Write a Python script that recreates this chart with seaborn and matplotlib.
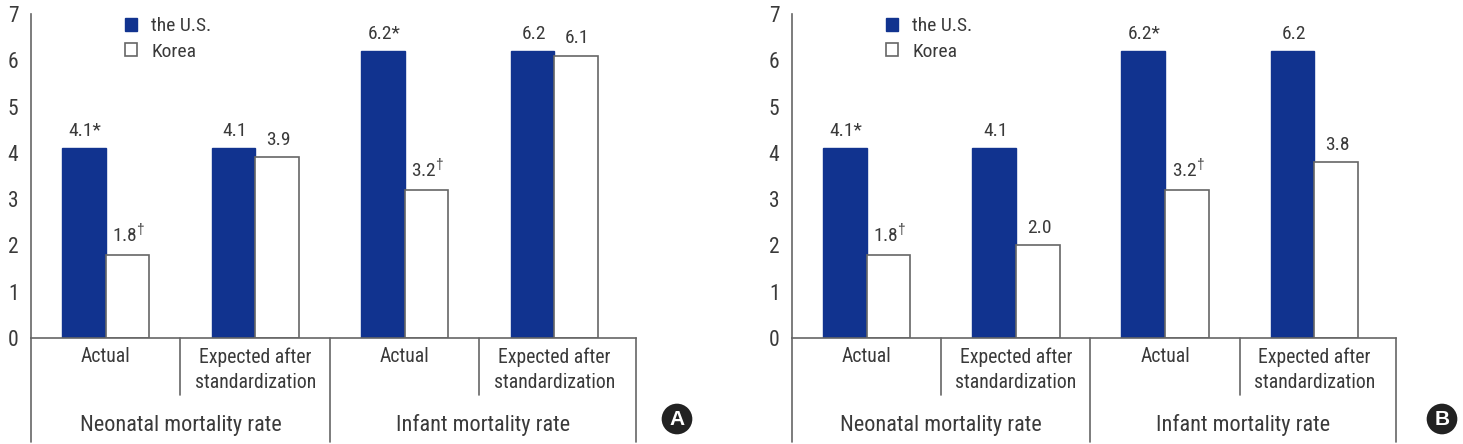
import pandas as pd
import matplotlib.pyplot as plt
from matplotlib.patches import Patch
import seaborn as sns

# data
groups = ['Neonatal mortality rate', 'Infant mortality rate']
subcats = ['Actual', 'Expected after\nstandardization', 'Actual', 'Expected after\nstandardization']
countries = ['the U.S.', 'Korea']

us_a = [4.1, 4.1, 6.2, 6.2]
korea_a = [1.8, 3.9, 3.2, 6.1]
us_b = [4.1, 4.1, 6.2, 6.2]
korea_b = [1.8, 2.0, 3.2, 3.8]

us_lbl_a = ['4.1*', '4.1', '6.2*', '6.2']
korea_lbl_a = ['1.8$^{†}$', '3.9', '3.2$^{†}$', '6.1']
us_lbl_b = ['4.1*', '4.1', '6.2*', '6.2']
korea_lbl_b = ['1.8$^{†}$', '2.0', '3.2$^{†}$', '3.8']

navy = '#11338f'
line_c = '#666666'
text_c = '#3a3a3a'

sns.set_style('white')
plt.rcParams['font.family'] = ['Roboto Condensed', 'Liberation Sans', 'DejaVu Sans']
plt.rcParams['mathtext.fontset'] = 'custom'
plt.rcParams['mathtext.rm'] = 'Liberation Sans'
plt.rcParams['text.color'] = text_c

W, H = 1463, 444
fig = plt.figure(figsize=(W / 100, H / 100), dpi=100)


def px_axes(left, top, right, bottom):
    return fig.add_axes([left / W, 1 - bottom / H, (right - left) / W, (bottom - top) / H])


def draw_panel(ax, us, korea, us_lbl, korea_lbl):
    keys = [f'c{i}' for i in range(len(subcats))]
    df = pd.DataFrame({
        'cat': keys * 2,
        'country': [countries[0]] * len(keys) + [countries[1]] * len(keys),
        'value': list(us) + list(korea),
    })
    sns.barplot(data=df, x='cat', y='value', hue='country', order=keys, hue_order=countries,
                palette={countries[0]: navy, countries[1]: 'white'}, width=0.585,
                dodge=True, legend=False, ax=ax, saturation=1)
    for bar in ax.containers[0]:
        bar.set_edgecolor(navy)
        bar.set_linewidth(1.0)
    for bar in ax.containers[1]:
        bar.set_edgecolor(line_c)
        bar.set_linewidth(1.2)

    # value labels above bars
    for cont, lbls in zip(ax.containers, [us_lbl, korea_lbl]):
        for bar, lab in zip(cont, lbls):
            ax.annotate(lab, (bar.get_x() + bar.get_width() / 2, bar.get_height()),
                        xytext=(1, 6), textcoords='offset points', ha='center', va='bottom',
                        fontsize=14, color=text_c)

    right = 3.547
    ax.set_xlim(-0.5, right)
    ax.set_ylim(0, 7)
    ax.set_yticks(range(0, 8))
    ax.set_xticks([])
    ax.set_xlabel('')
    ax.set_ylabel('')
    sns.despine(ax=ax, top=True, right=True)
    for s in ['left', 'bottom']:
        ax.spines[s].set_color(line_c)
        ax.spines[s].set_linewidth(1.2)
    ax.tick_params(axis='y', direction='in', length=7, width=1.2, color=line_c,
                   pad=9, labelsize=15.5, labelcolor=text_c)

    # two-level category box under the axis
    tr = ax.get_xaxis_transform()
    hpx = 338 - 14
    inner = -(395 - 338) / hpx
    outer = -(442 - 338) / hpx
    for x, y1 in [(-0.5, outer), (0.5, inner), (1.5, outer), (2.5, inner), (right, outer)]:
        ax.plot([x, x], [0, y1], transform=tr, color=line_c, lw=1.2, clip_on=False)
    for i, lab in enumerate(subcats):
        ax.text(i, -(347 - 338) / hpx, lab, transform=tr, ha='center', va='top',
                fontsize=14.2, linespacing=1.45, color=text_c)
    ax.text(0.5, -(425 - 338) / hpx, groups[0], transform=tr, ha='center', va='center',
            fontsize=16, color=text_c)
    ax.text((1.5 + right) / 2, -(425 - 338) / hpx, groups[1], transform=tr, ha='center',
            va='center', fontsize=16, color=text_c)

    handles = [Patch(facecolor=navy, edgecolor=navy), Patch(facecolor='white', edgecolor=line_c, lw=1.2)]
    ax.legend(handles, countries, loc='upper left', bbox_to_anchor=(0.155, 0.99), frameon=False,
              fontsize=14, handlelength=0.62, handleheight=0.62, handletextpad=0.75,
              labelspacing=0.38, borderaxespad=0, borderpad=0)


ax_a = px_axes(31, 14, 636, 338)
draw_panel(ax_a, us_a, korea_a, us_lbl_a, korea_lbl_a)
ax_b = px_axes(792, 14, 1396, 338)
draw_panel(ax_b, us_b, korea_b, us_lbl_b, korea_lbl_b)

for lab, x in [('A', 677), ('B', 1442)]:
    fig.text(x / W, 1 - 419 / H, lab, ha='center', va='center', color='white', fontsize=15,
             fontweight='bold', family=['Liberation Sans', 'DejaVu Sans'],
             bbox=dict(boxstyle='circle,pad=0.28', fc='#222222', ec='none'))

fig.savefig('out.png', dpi=100)
